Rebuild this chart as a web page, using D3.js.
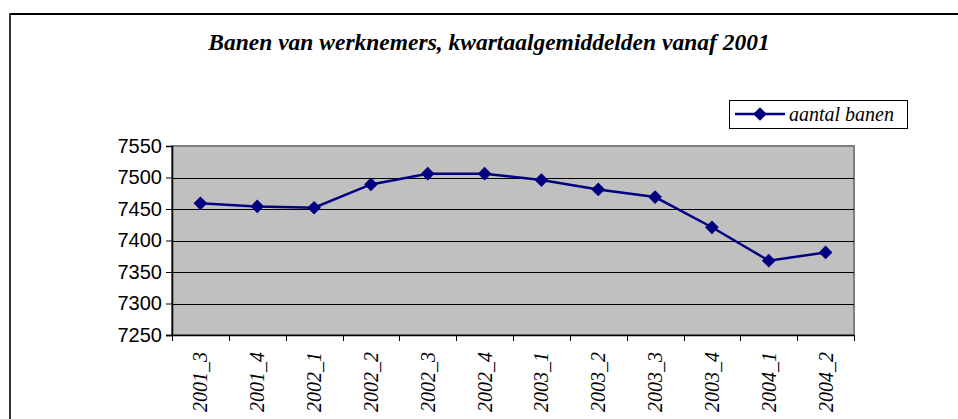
<!DOCTYPE html>
<html lang="nl">
<head>
    <meta charset="UTF-8">
    <title>Banen van werknemers</title>
    <script src="https://d3js.org/d3.v7.min.js"></script>
    <style>
        body { margin: 0; background: #fff; }
        svg { display: block; }
        .serif { font-family: "Liberation Serif", "DejaVu Serif", serif; font-style: italic; }
    </style>
</head>
<body>
    <svg id="chart" width="958" height="419"></svg>
    <script>
        // kwartalen en waarden (x 1000 banen)
        const quarters = ["2001_3", "2001_4", "2002_1", "2002_2", "2002_3", "2002_4",
                          "2003_1", "2003_2", "2003_3", "2003_4", "2004_1", "2004_2"];
        const banen = [7459, 7454, 7452, 7489, 7506, 7506, 7496, 7481, 7469, 7421, 7368, 7381];
        const yTicks = [7250, 7300, 7350, 7400, 7450, 7500, 7550];
        const seriesName = "aantal banen";

        const svg = d3.select("#chart");

        // outer frame (clipped at right/bottom like the original)
        svg.append("line").attr("x1", 10).attr("x2", 958).attr("y1", 14).attr("y2", 14)
            .attr("stroke", "#000").attr("stroke-width", 2);
        svg.append("line").attr("x1", 10).attr("x2", 10).attr("y1", 13).attr("y2", 419)
            .attr("stroke", "#333").attr("stroke-width", 2);

        svg.append("text")
            .attr("class", "serif")
            .attr("x", 489).attr("y", 50)
            .attr("text-anchor", "middle")
            .style("font-weight", "bold")
            .style("font-size", "23.5px")
            .text("Banen van werknemers, kwartaalgemiddelden vanaf 2001");

        const plotL = 172, plotR = 854, plotT = 146, plotB = 335;

        const x = d3.scaleBand().domain(quarters).range([plotL, plotR]);
        const y = d3.scaleLinear().domain([7250, 7550]).range([plotB, plotT]);

        svg.append("rect")
            .attr("x", plotL).attr("y", plotT)
            .attr("width", plotR - plotL).attr("height", plotB - plotT)
            .attr("fill", "#c0c0c0")
            .attr("stroke", "#808080").attr("stroke-width", 2);

        // gridlines
        svg.append("g").selectAll("line")
            .data(yTicks.slice(1, -1))
            .enter().append("line")
            .attr("x1", plotL).attr("x2", plotR)
            .attr("y1", d => Math.round(y(d)) + 0.5).attr("y2", d => Math.round(y(d)) + 0.5)
            .attr("stroke", "#000").attr("stroke-width", 1);

        // y axis
        const yAxis = svg.append("g")
            .attr("transform", `translate(${plotL},0)`)
            .call(d3.axisLeft(y).tickValues(yTicks).tickSize(6).tickPadding(4).tickFormat(d3.format("d")));
        yAxis.select(".domain").attr("stroke", "#000").attr("stroke-width", 1.5);
        yAxis.selectAll("text")
            .style("font-family", "'Liberation Sans', Arial, sans-serif")
            .style("font-size", "20px").attr("fill", "#000");

        // x axis: ticks on band boundaries
        const xg = svg.append("g");
        xg.append("line")
            .attr("x1", plotL - 6).attr("x2", plotR)
            .attr("y1", plotB + 0.5).attr("y2", plotB + 0.5)
            .attr("stroke", "#000").attr("stroke-width", 1.5);
        const boundaries = quarters.map(q => x(q)).concat([plotR]);
        xg.selectAll("line.tick")
            .data(boundaries)
            .enter().append("line")
            .attr("class", "tick")
            .attr("x1", d => Math.round(d) + 0.5).attr("x2", d => Math.round(d) + 0.5)
            .attr("y1", plotB).attr("y2", plotB + 6)
            .attr("stroke", "#000");
        xg.selectAll("text")
            .data(quarters)
            .enter().append("text")
            .attr("class", "serif")
            .attr("transform", d => `translate(${x(d) + x.bandwidth() / 2 + 7},${plotB + 17}) rotate(-90)`)
            .attr("text-anchor", "end")
            .style("font-size", "20px")
            .text(d => d);

        // line + markers
        const pts = quarters.map((q, i) => [x(q) + x.bandwidth() / 2, y(banen[i])]);
        svg.append("path")
            .attr("d", d3.line()(pts))
            .attr("fill", "none")
            .attr("stroke", "#000080").attr("stroke-width", 2.5);

        const diamond = d3.symbol().type(d3.symbolDiamond2).size(120);
        svg.append("g").selectAll("path")
            .data(pts)
            .enter().append("path")
            .attr("d", diamond)
            .attr("transform", d => `translate(${d[0]},${d[1]})`)
            .attr("fill", "#000080");

        // legend
        const lg = svg.append("g");
        lg.append("rect")
            .attr("x", 729.5).attr("y", 100.5).attr("width", 178).attr("height", 28)
            .attr("fill", "#fff").attr("stroke", "#000").attr("stroke-width", 1);
        lg.append("line")
            .attr("x1", 735).attr("x2", 785).attr("y1", 114).attr("y2", 114)
            .attr("stroke", "#000080").attr("stroke-width", 2.5);
        lg.append("path")
            .attr("d", diamond)
            .attr("transform", "translate(760,114)")
            .attr("fill", "#000080");
        lg.append("text")
            .attr("class", "serif")
            .attr("x", 789).attr("y", 121)
            .style("font-size", "20px")
            .text(seriesName);
    </script>
</body>
</html>
